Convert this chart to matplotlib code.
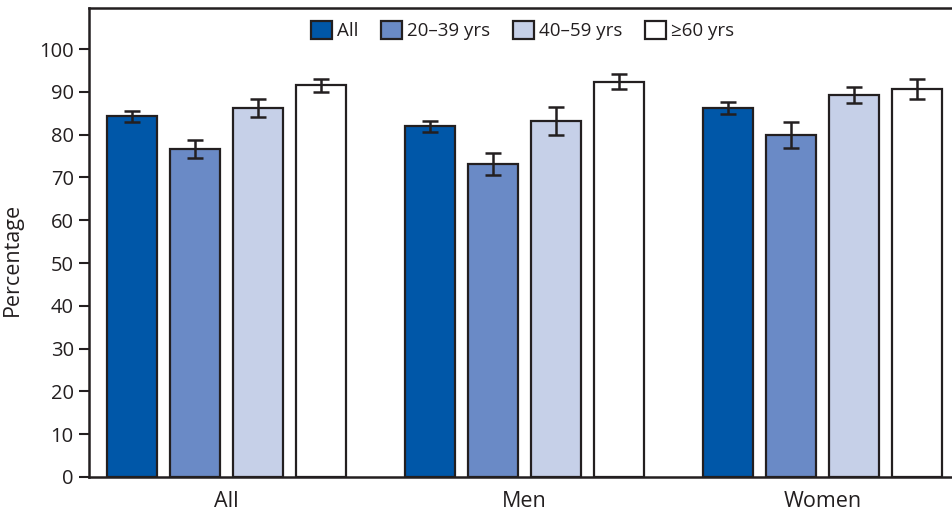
import numpy as np
import matplotlib
matplotlib.use('Agg')
import matplotlib.pyplot as plt

plt.rcParams['font.family'] = ['Open Sans', 'DejaVu Sans']

# data
groups = ['All', 'Men', 'Women']
series = ['All', '20\u201339 yrs', '40\u201359 yrs', '\u226560 yrs']
values = {
    'All': [84.3, 82.0, 86.3],
    '20\u201339 yrs': [76.6, 73.1, 79.9],
    '40\u201359 yrs': [86.2, 83.2, 89.3],
    '\u226560 yrs': [91.5, 92.4, 90.7],
}
errors = {
    'All': [1.3, 1.3, 1.4],
    '20\u201339 yrs': [2.1, 2.5, 3.1],
    '40\u201359 yrs': [2.1, 3.2, 1.8],
    '\u226560 yrs': [1.5, 1.8, 2.3],
}
colors = ['#0057A8', '#6A8AC6', '#C6D0E8', '#FFFFFF']

ink = '#231F20'
fig = plt.figure(figsize=(9.53, 5.15), dpi=100)
ax = fig.add_axes([0.0934, 0.0738, 0.9066, 0.9107])

x = np.arange(len(groups))
step = 0.2114
width = 0.168
for i, s in enumerate(series):
    ax.bar(x + (i - 1.5) * step, values[s], width, color=colors[i],
           edgecolor=ink, linewidth=1.6, label=s, zorder=2)
    ax.errorbar(x + (i - 1.5) * step, values[s], yerr=errors[s], fmt='none',
                ecolor=ink, elinewidth=1.8, capsize=6, capthick=1.8, zorder=3)

ax.set_xlim(-0.461, 2.438)
ax.set_ylim(0, 109.6)
ax.set_yticks(range(0, 101, 10))
ax.set_xticks(x)
ax.set_xticklabels(groups)
ax.tick_params(axis='x', length=0, pad=10, labelsize=15.5, colors=ink)
ax.tick_params(axis='y', length=7, width=1.5, direction='out', labelsize=14.5,
               colors=ink, pad=4)
ax.set_ylabel('Percentage', fontsize=15.5, color=ink)
ax.yaxis.set_label_coords(-0.077, 0.463)

ax.spines['right'].set_visible(False)
for sp in ['left', 'top', 'bottom']:
    ax.spines[sp].set_linewidth(1.8)
    ax.spines[sp].set_color(ink)

leg = ax.legend(loc='upper center', bbox_to_anchor=(0.502, 1.0), ncol=4,
                frameon=False, fontsize=13.5, handlelength=1.1, handleheight=1.1,
                handletextpad=0.3, columnspacing=1.2, borderaxespad=0.3)
for t in leg.get_texts():
    t.set_color(ink)

fig.savefig('out.png', dpi=100)
